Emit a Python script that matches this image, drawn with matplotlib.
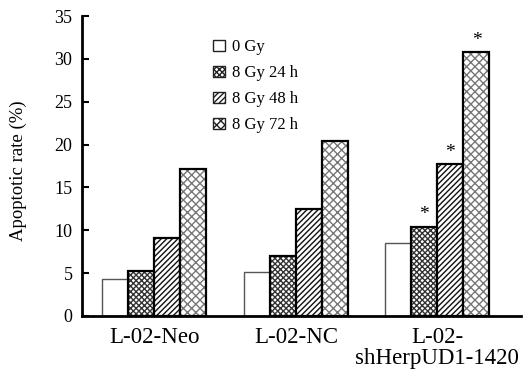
import numpy as np
import matplotlib.pyplot as plt
from matplotlib.patches import Patch

plt.rcParams['font.family'] = ['Liberation Serif', 'DejaVu Serif']
plt.rcParams['hatch.linewidth'] = 1.0

# Apoptotic rate (%) per cell line and irradiation time
groups = ["L-02-Neo", "L-02-NC", "L-02-\nshHerpUD1-1420"]
series = ["0 Gy", "8 Gy 24 h", "8 Gy 48 h", "8 Gy 72 h"]
gy0 = [4.3, 5.1, 8.5]
gy8_24h = [5.25, 7.0, 10.4]
gy8_48h = [9.1, 12.5, 17.7]
gy8_72h = [17.2, 20.4, 30.8]
stars = [False, False, True]

values = [gy0, gy8_24h, gy8_48h, gy8_72h]
hatches = [None, "xxxxxx", "//////", "xxxx"]
hatch_cols = ["white", "#333333", "#111111", "#777777"]
edge_cols = ["#555555", "black", "black", "black"]

fig = plt.figure(figsize=(5.23, 3.73), dpi=100)
ax = fig.add_axes([0.157, 0.153, 0.839, 0.804])

x = np.arange(len(groups))
w = 0.184
handles = []
for i, (vals, h, hc, ec) in enumerate(zip(values, hatches, hatch_cols, edge_cols)):
    pos = x + (i - 1.5) * w
    # hatch layer
    ax.bar(pos, vals, w, color="white", edgecolor=hc, hatch=h, linewidth=0)
    # outline
    ax.bar(pos, vals, w, color="none", edgecolor=ec, linewidth=1.6 if i else 1.0)
    handles.append(Patch(facecolor="white", edgecolor="#222222", hatch=h,
                         linewidth=1.0, label=series[i]))
    if i > 0:
        for p, v, s in zip(pos, vals, stars):
            if s:
                ax.text(p, v + 0.4, "*", ha="center", va="bottom", fontsize=14)

ax.set_xlim(-0.51, 2.59)
ax.set_ylim(0, 35)
ax.set_yticks(range(0, 36, 5))
ax.set_xticks(x)
ax.set_xticklabels(groups, fontsize=16.5, linespacing=1.0)
ax.tick_params(axis="y", labelsize=13, direction="in", length=5, width=1.5, pad=7)
ax.tick_params(axis="x", length=0, pad=8)
ax.set_ylabel("Apoptotic rate (%)", fontsize=13.5)
ax.yaxis.set_label_coords(-0.125, 0.483)
for s in ["top", "right"]:
    ax.spines[s].set_visible(False)
for s in ["left", "bottom"]:
    ax.spines[s].set_linewidth(2)

fig.legend(handles=handles, loc="upper left", bbox_to_anchor=(0.395, 0.912),
           frameon=False, fontsize=12, handlelength=0.7, handleheight=0.7,
           handletextpad=0.4, labelspacing=0.6, borderaxespad=0)

fig.savefig("out.png", dpi=100)
